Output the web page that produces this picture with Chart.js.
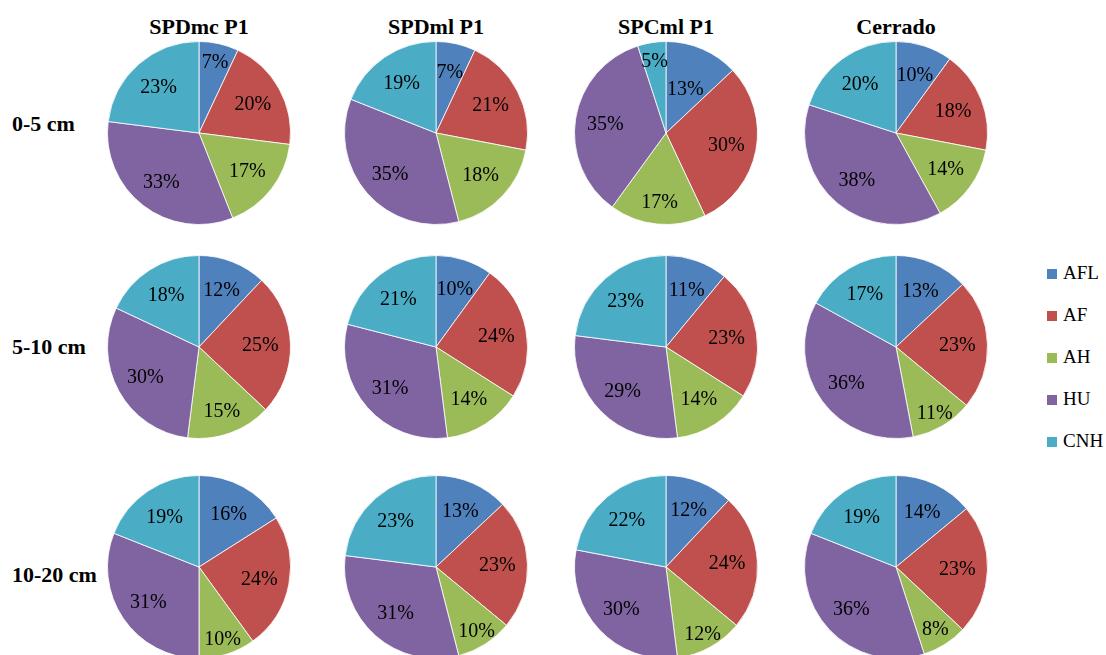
<!DOCTYPE html>
<html>
<head>
<meta charset="utf-8">
<script src="https://cdn.jsdelivr.net/npm/chart.js@4"></script>
<style>
  html, body { margin: 0; padding: 0; background: #fff; }
  #page { position: relative; width: 1106px; height: 655px; overflow: hidden; background: #fff; color: #000;
          font-family: "Liberation Serif", serif; }
  .pie { position: absolute; }
  .colTitle { position: absolute; width: 220px; text-align: center; font-size: 22px; line-height: 22px; font-weight: bold; }
  .rowTitle { position: absolute; left: 12px; font-size: 22px; line-height: 22px; font-weight: bold; white-space: nowrap; }
  .legItem { position: absolute; left: 1047px; font-size: 19px; line-height: 19px; white-space: nowrap; }
  .legItem span { display: inline-block; width: 10px; height: 10px; margin-right: 6px; }
</style>
</head>
<body>
<div id="page"></div>
<script>
// data (percent of total per fraction)
var columns = ['SPDmc P1', 'SPDml P1', 'SPCml P1', 'Cerrado'];
var depths = ['0-5 cm', '5-10 cm', '10-20 cm'];
var fractions = ['AFL', 'AF', 'AH', 'HU', 'CNH'];

var depth0_5 = [
    [7, 20, 17, 33, 23],
    [7, 21, 18, 35, 19],
    [13, 30, 17, 35, 5],
    [10, 18, 14, 38, 20]
];
var depth5_10 = [
    [12, 25, 15, 30, 18],
    [10, 24, 14, 31, 21],
    [11, 23, 14, 29, 23],
    [13, 23, 11, 36, 17]
];
var depth10_20 = [
    [16, 24, 10, 31, 19],
    [13, 23, 10, 31, 23],
    [12, 24, 12, 30, 22],
    [14, 23, 8, 36, 19]
];
var byDepth = [depth0_5, depth5_10, depth10_20];

var colors = ['#4F81BD', '#C0504D', '#9BBB59', '#8064A2', '#4BACC6'];

// layout
var colX = [199, 436, 666, 896];
var rowY = [133, 347, 567];
var rowLabelTop = [113, 336, 564];
var size = 184;
// a few labels that excel placed by "best fit"
var labelTweak = { '0,1,0': 0.69, '0,2,0': 0.53, '0,2,2': 0.75, '1,0,2': 0.74 };

Chart.defaults.font.family = '"Liberation Serif", serif';

var page = document.getElementById('page');

var pctLabels = {
    id: 'pctLabels',
    afterDatasetsDraw: function (chart) {
        var c = chart.ctx;
        var meta = chart.getDatasetMeta(0);
        var vals = chart.data.datasets[0].data;
        c.save();
        c.font = '20px "Liberation Serif", serif';
        c.fillStyle = '#000';
        c.textAlign = 'center';
        c.textBaseline = 'middle';
        meta.data.forEach(function (arc, i) {
            var p = arc.getProps(['x', 'y', 'startAngle', 'endAngle', 'outerRadius'], true);
            var mid = (p.startAngle + p.endAngle) / 2;
            var f = 0.67;
            if (vals[i] <= 8) f = 0.8;
            else if (vals[i] <= 12 && Math.sin(mid) > 0.3) f = 0.83;
            var key = chart.options.plugins.pctLabels.key + ',' + i;
            if (labelTweak[key]) f = labelTweak[key];
            var r = p.outerRadius * f;
            c.fillText(vals[i] + '%', p.x + Math.cos(mid) * r, p.y + Math.sin(mid) * r + 1);
        });
        c.restore();
    }
};

columns.forEach(function (name, j) {
    var t = document.createElement('div');
    t.className = 'colTitle';
    t.style.left = (colX[j] - 110) + 'px';
    t.style.top = '16px';
    t.textContent = name;
    page.appendChild(t);
});

depths.forEach(function (name, i) {
    var t = document.createElement('div');
    t.className = 'rowTitle';
    t.style.top = rowLabelTop[i] + 'px';
    t.textContent = name;
    page.appendChild(t);

    columns.forEach(function (col, j) {
        var cv = document.createElement('canvas');
        cv.className = 'pie';
        cv.width = size;
        cv.height = size;
        cv.style.left = (colX[j] - size / 2) + 'px';
        cv.style.top = (rowY[i] - size / 2) + 'px';
        page.appendChild(cv);

        new Chart(cv.getContext('2d'), {
            type: 'pie',
            data: {
                labels: fractions,
                datasets: [{
                    label: col + ' ' + name,
                    data: byDepth[i][j],
                    backgroundColor: colors,
                    borderColor: 'rgba(255,255,255,0.8)',
                    borderWidth: 1
                }]
            },
            options: {
                responsive: false,
                animation: false,
                events: [],
                layout: { padding: 0 },
                plugins: {
                    legend: { display: false },
                    tooltip: { enabled: false },
                    pctLabels: { key: i + ',' + j }
                }
            },
            plugins: [pctLabels]
        });
    });
});

fractions.forEach(function (name, k) {
    var d = document.createElement('div');
    d.className = 'legItem';
    d.style.top = (263 + k * 42.1) + 'px';
    var sw = document.createElement('span');
    sw.style.background = colors[k];
    d.appendChild(sw);
    d.appendChild(document.createTextNode(name));
    page.appendChild(d);
});
</script>
</body>
</html>
